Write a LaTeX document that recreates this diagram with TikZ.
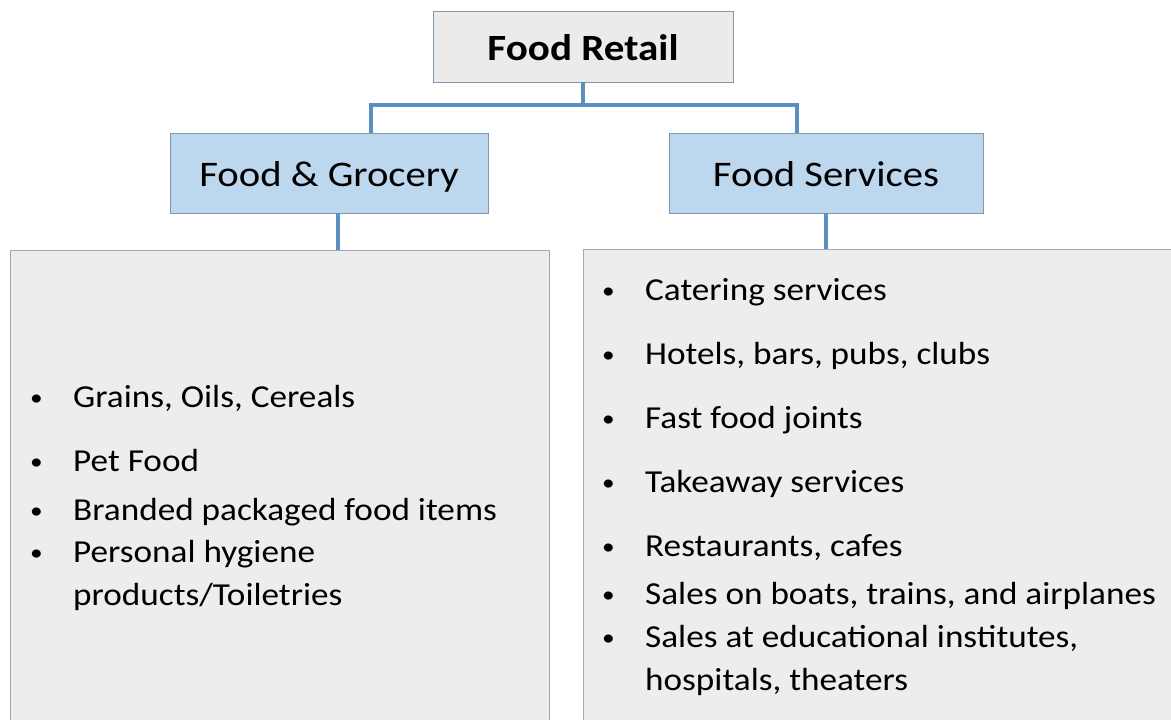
\documentclass[tikz,border=0pt]{standalone}
\usepackage{fontspec}
\setmainfont{Carlito}
\newfontfamily\itemfont[FakeStretch=1.10]{Carlito}
\newfontfamily\subfont[FakeStretch=1.13]{Carlito}
\newfontfamily\headfont[FakeStretch=1.11]{Carlito}
\definecolor{topfill}{HTML}{EBEBEB}
\definecolor{subfill}{HTML}{BDD7EE}
\definecolor{bigfill}{HTML}{EDEDED}
\definecolor{boxline}{HTML}{8097AE}
\definecolor{connline}{HTML}{5B8FC0}
\tikzset{
  headbox/.style={draw=boxline, fill=topfill, line width=0.9pt, minimum width=300pt, minimum height=71pt, inner sep=0pt,
    text height=27pt, text depth=0pt, font=\fontsize{37}{44}\headfont\bfseries},
  subbox/.style={draw=boxline, fill=subfill, line width=0.9pt, minimum height=80pt, inner sep=0pt,
    text height=27pt, text depth=0pt, font=\fontsize{36}{43}\subfont},
  bigbox/.style={draw=boxline!80, fill=bigfill, line width=0.9pt},
  conn/.style={draw=connline, line width=3.2pt},
  itemtxt/.style={anchor=base west, inner sep=0pt, align=left, font=\fontsize{32}{43}\itemfont},
}
\newcommand{\bul}{\llap{\raisebox{2pt}{\scalebox{0.72}{\textbullet}}\hspace{30.5pt}}}
\begin{document}
\begin{tikzpicture}[x=1pt,y=-1pt]
\useasboundingbox (0,0) rectangle (1171,720);
\begin{scope}
\clip (0,0) rectangle (1171,720);
\fill[white] (0,0) rectangle (1171,720);
% big boxes
\draw[bigbox] (10,250) rectangle (549,740);
\draw[bigbox] (583,249) rectangle (1190,740);
\node[draw=none, fill=none, inner sep=0pt, minimum width=539pt, minimum height=470pt, anchor=north west] (lb) at (10,250) {};
\node[draw=none, fill=none, inner sep=0pt, minimum width=588pt, minimum height=471pt, anchor=north west] (rb) at (583,249) {};
\end{scope}
% header boxes
\node[headbox] (top) at (583,46.5) {Food Retail};
\node[subbox, minimum width=318pt] (fg) at (329,173) {Food \& Grocery};
\node[subbox, minimum width=314pt] (fs) at (826,173) {Food Services};
% connectors
\coordinate (jl) at (371,105);
\coordinate (jr) at (797,105);
\draw[conn] (top.south) -- (top.south |- jl);
\draw[conn] ([xshift=-1.6pt]jl) -- ([xshift=1.6pt]jr);
\draw[conn] (jl) -- (jl |- fg.north);
\draw[conn] (jr) -- (jr |- fs.north);
\draw[conn] ([xshift=9pt]fg.south) -- ([xshift=9pt]fg.south |- lb.north);
\draw[conn] (fs.south) -- (fs.south |- rb.north);
% left items
\node[itemtxt] (l1) at (73,407) {\bul Grains, Oils, Cereals};
\node[itemtxt] (l2) at (73,471) {\bul Pet Food};
\node[itemtxt] (l3) at (73,520) {\bul Branded packaged food items};
\node[itemtxt] (l4) at (73,605) {\bul Personal hygiene\\products/Toiletries};
% right items
\node[itemtxt] (r1) at (645,300) {\bul Catering services};
\node[itemtxt] (r2) at (645,364) {\bul Hotels, bars, pubs, clubs};
\node[itemtxt] (r3) at (645,428) {\bul Fast food joints};
\node[itemtxt] (r4) at (645,492) {\bul Takeaway services};
\node[itemtxt] (r5) at (645,556) {\bul Restaurants, cafes};
\node[itemtxt] (r6) at (645,604) {\bul Sales on boats, trains, and airplanes};
\node[itemtxt] (r7) at (645,690) {\bul Sales at educational institutes,\\hospitals, theaters};
\end{tikzpicture}
\end{document}
